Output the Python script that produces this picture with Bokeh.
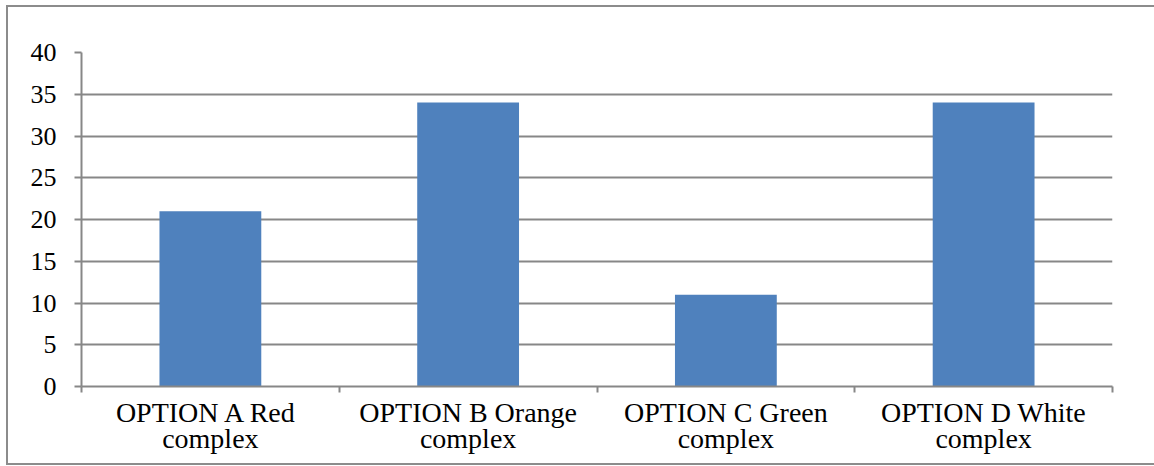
from bokeh.plotting import figure
from bokeh.models import FixedTicker, Range1d
from bokeh.embed import file_html
from bokeh.resources import INLINE

categories = ["OPTION A  Red\ncomplex", "OPTION B Orange\ncomplex",
              "OPTION C Green\ncomplex", "OPTION D White\ncomplex"]
values = [21, 34, 11, 34]
y_ticks = [0, 5, 10, 15, 20, 25, 30, 35, 40]

GRAY = "#878787"
BLUE = "#4F81BD"
FONT = "Liberation Serif"

n = len(categories)
centers = [i + 0.5 for i in range(n)]
bounds = [float(i) for i in range(n + 1)]

p = figure(width=1148, height=460, output_backend="svg", toolbar_location=None,
           x_range=Range1d(0, n), y_range=Range1d(0, 40),
           min_border_left=73, min_border_top=45, min_border_right=44, min_border_bottom=81)
p.styles = {"margin": "5px 0px 0px 6px",
            "border-top": "2px solid #8c8c8c", "border-left": "2px solid #8c8c8c",
            "border-bottom": "2px solid #8c8c8c"}

p.vbar(x=centers, top=values, width=0.395, color=BLUE, line_color=None)

p.outline_line_color = None
p.background_fill_color = "white"
p.border_fill_color = "white"

# y axis
ya = p.yaxis[0]
ya.ticker = FixedTicker(ticks=y_ticks)
ya.axis_line_color = GRAY
ya.axis_line_width = 2
ya.major_tick_line_color = GRAY
ya.major_tick_line_width = 2
ya.major_tick_out = 7
ya.major_tick_in = 0
ya.minor_tick_line_color = None
ya.major_label_text_font = FONT
ya.major_label_text_font_size = "26px"
ya.major_label_text_color = "black"
ya.major_label_standoff = 18

# x axis
xa = p.xaxis[0]
xa.ticker = FixedTicker(ticks=centers, minor_ticks=bounds)
xa.major_label_overrides = {c: lab for c, lab in zip(centers, categories)}
xa.axis_line_color = GRAY
xa.axis_line_width = 2
xa.major_tick_line_color = None
xa.minor_tick_line_color = GRAY
xa.minor_tick_line_width = 2
xa.minor_tick_out = 6
xa.minor_tick_in = 0
xa.major_label_text_font = FONT
xa.major_label_text_font_size = "28px"
xa.major_label_text_line_height = 0.85
xa.major_label_text_color = "black"
xa.major_label_standoff = 4

p.xgrid.grid_line_color = None
p.ygrid.ticker = FixedTicker(ticks=y_ticks)
p.ygrid.grid_line_color = GRAY
p.ygrid.grid_line_width = 2

open("out.html", "w").write(file_html(p, INLINE))
